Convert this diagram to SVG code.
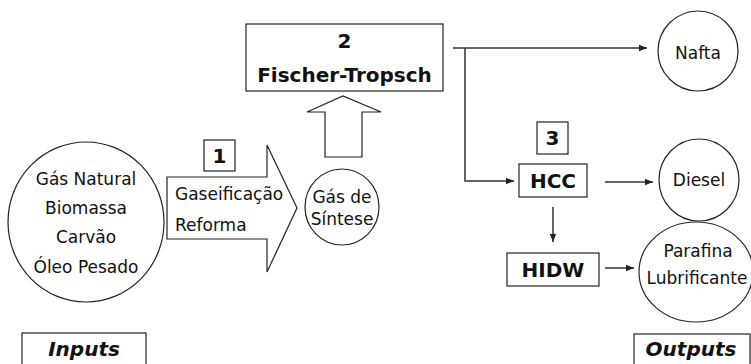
<svg xmlns="http://www.w3.org/2000/svg" width="751" height="364" viewBox="0 0 751 364">
<defs>
<style>
.shape{fill:#fff;stroke:#222;stroke-width:1.2}
.t{font-family:"DejaVu Sans",Verdana,sans-serif;font-size:17px;fill:#111;text-anchor:middle}
.ts{font-family:"DejaVu Sans",Verdana,sans-serif;font-size:17px;fill:#111}
.b{font-family:"DejaVu Sans",Verdana,sans-serif;font-size:20px;font-weight:bold;fill:#111;text-anchor:middle}
.bi{font-family:"DejaVu Sans",Verdana,sans-serif;font-size:20px;font-weight:bold;font-style:italic;fill:#111;text-anchor:middle}
.con{fill:none;stroke:#333;stroke-width:1.5;marker-end:url(#ah)}
</style>
<marker id="ah" viewBox="0 0 10 10" refX="10" refY="5" markerWidth="9" markerHeight="8" markerUnits="userSpaceOnUse" orient="auto">
<path d="M0,1 L10,5 L0,9 z" fill="#222"/>
</marker>
</defs>
<rect width="751" height="364" fill="#fff"/>

<g id="inputs-circle">
<ellipse class="shape" cx="86" cy="222" rx="78" ry="80"/>
<text class="t" x="86" y="185">Gás Natural</text>
<text class="t" x="86" y="214">Biomassa</text>
<text class="t" x="86" y="243">Carvão</text>
<text class="t" x="86" y="273">Óleo Pesado</text>
</g>

<g id="step1-arrow">
<path class="shape" d="M167,177 H267 V145 L297,208 L267,272 V239 H167 Z"/>
<text class="ts" x="175" y="200">Gaseificação</text>
<text class="ts" x="175" y="231">Reforma</text>
</g>

<g id="label1">
<rect class="shape" x="204" y="140" width="31" height="31"/>
<text class="b" x="219.5" y="163">1</text>
</g>

<g id="syngas">
<ellipse class="shape" cx="342" cy="207" rx="37" ry="38"/>
<text class="t" x="342" y="203">Gás de</text>
<text class="t" x="342" y="225">Síntese</text>
</g>

<g id="up-arrow">
<path class="shape" d="M325,157 V112 H307 L343,96 L381,112 H362 V157 Z"/>
</g>

<g id="fischer-tropsch">
<rect class="shape" x="246" y="24" width="197" height="67"/>
<text class="b" x="344.5" y="48">2</text>
<text class="b" x="344.5" y="82">Fischer-Tropsch</text>
</g>

<g id="nafta">
<ellipse class="shape" cx="698" cy="51" rx="40" ry="40"/>
<text class="t" x="698" y="59">Nafta</text>
</g>

<g id="label3">
<rect class="shape" x="537" y="122" width="31" height="32"/>
<text class="b" x="552.5" y="145">3</text>
</g>

<g id="hcc">
<rect class="shape" x="519" y="164" width="68" height="33"/>
<text class="b" x="553" y="188">HCC</text>
</g>

<g id="diesel">
<ellipse class="shape" cx="699" cy="180" rx="40" ry="41"/>
<text class="t" x="699" y="186">Diesel</text>
</g>

<g id="hidw">
<rect class="shape" x="507" y="253" width="92" height="33"/>
<text class="b" x="553" y="277">HIDW</text>
</g>

<g id="parafina">
<ellipse class="shape" cx="696" cy="272" rx="57" ry="50"/>
<text class="t" x="698" y="257">Parafina</text>
<text class="t" x="697" y="284">Lubrificante</text>
</g>

<g id="inputs-label">
<rect class="shape" x="22" y="333" width="124" height="40"/>
<text class="bi" x="84" y="356">Inputs</text>
</g>

<g id="outputs-label">
<rect class="shape" x="634" y="334" width="116" height="40"/>
<text class="bi" x="691" y="356">Outputs</text>
</g>

<g id="connectors">
<path class="con" d="M453,48 H647"/>
<path class="con" d="M465,48 V181 H514"/>
<path class="con" d="M605,182 H653"/>
<path class="con" d="M553,207 V242"/>
<path class="con" d="M605,268 H634"/>
</g>
</svg>
